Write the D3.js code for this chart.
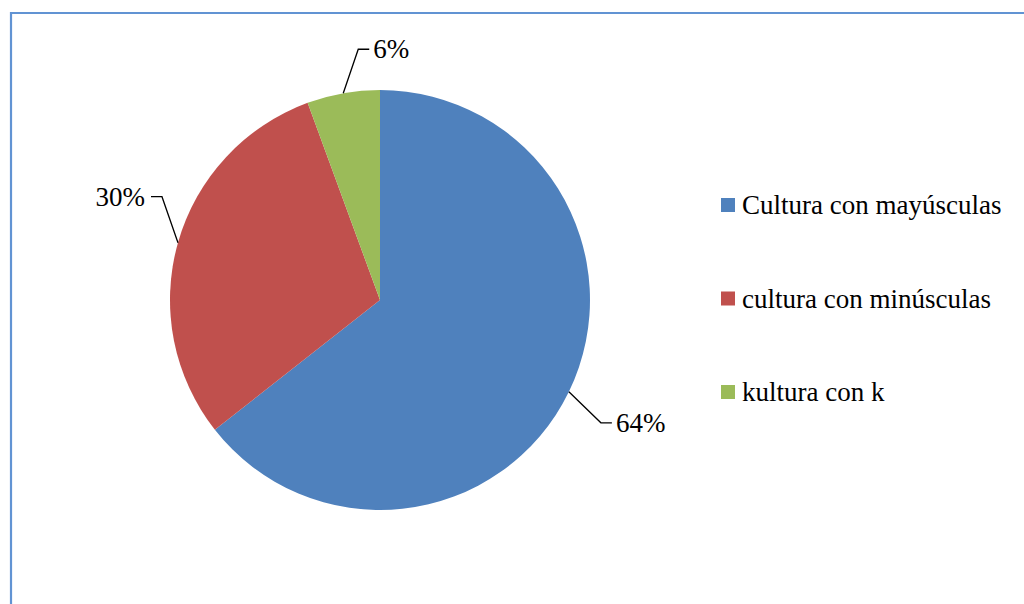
<!DOCTYPE html>
<html>
<head>
<meta charset="utf-8">
<script src="https://cdn.jsdelivr.net/npm/d3@7"></script>
</head>
<body style="margin:0">
<div id="chart"></div>
<script>
// data
const categories = ['Cultura con mayúsculas', 'cultura con minúsculas', 'kultura con k'];
const values = [64.4, 30.0, 5.6];
const colors = ['#4F81BD', '#C0504D', '#9BBB59'];

// where each label sits relative to the slice edge (best-fit style)
const labelOffsets = [[43, 31], [-27, -46], [26, -44]];

const width = 1024;
const height = 604;
const cx = 380;
const cy = 300;
const radius = 210;
const fontSize = 27;

const svg = d3.select('#chart')
  .append('svg')
  .attr('width', width)
  .attr('height', height);

// chart frame (only left/top visible in the crop)
svg.append('path')
  .attr('d', `M11,${height + 5} L11,13 L${width + 5},13`)
  .attr('fill', 'none')
  .attr('stroke', '#6193d3')
  .attr('stroke-width', 2.2);

const data = categories.map((name, i) => ({ name, value: values[i], color: colors[i], off: labelOffsets[i] }));

const pie = d3.pie()
  .sort(null)
  .value(d => d.value);

const arc = d3.arc()
  .innerRadius(0)
  .outerRadius(radius);

const arcs = pie(data);
const total = d3.sum(values);

svg.append('g')
  .attr('transform', `translate(${cx},${cy})`)
  .selectAll('path')
  .data(arcs)
  .join('path')
  .attr('fill', d => d.data.color)
  .attr('d', arc);

// leader lines + labels, in page coordinates
const labels = arcs.map(d => {
  const mid = (d.startAngle + d.endAngle) / 2;
  const ex = cx + radius * Math.sin(mid);
  const ey = cy - radius * Math.cos(mid);
  const lx = ex + d.data.off[0];
  const ly = ey + d.data.off[1];
  const right = d.data.off[0] > 0;
  return { ex, ey, lx, ly, right, text: Math.round(d.data.value / total * 100) + '%' };
});

svg.selectAll('path.leader')
  .data(labels)
  .join('path')
  .attr('class', 'leader')
  .attr('d', d => `M${d.ex},${d.ey} L${d.lx + (d.right ? -11 : 11)},${d.ly} L${d.lx},${d.ly}`)
  .attr('fill', 'none')
  .attr('stroke', '#000')
  .attr('stroke-width', 1.3);

svg.selectAll('text.pct')
  .data(labels)
  .join('text')
  .attr('class', 'pct')
  .attr('x', d => d.right ? d.lx + 4 : d.lx - 6)
  .attr('y', d => d.ly + 9)
  .attr('font-size', fontSize)
  .attr('font-family', d => `'Liberation Serif', monospace`)
  .attr('text-anchor', d => d.right ? 'start' : 'end')
  .text(d => d.text);

// legend
svg.selectAll('rect.key')
  .data(data)
  .join('rect')
  .attr('class', 'key')
  .attr('x', 721)
  .attr('y', (d, i) => 198 + i * 93.5)
  .attr('width', 14)
  .attr('height', 14)
  .attr('fill', d => d.color);

svg.selectAll('text.name')
  .data(data)
  .join('text')
  .attr('class', 'name')
  .attr('x', 742)
  .attr('y', (d, i) => 214 + i * 93.5)
  .attr('font-size', fontSize)
  .attr('font-family', d => `'Liberation Serif', monospace`)
  .text(d => d.name);
</script>
</body>
</html>
